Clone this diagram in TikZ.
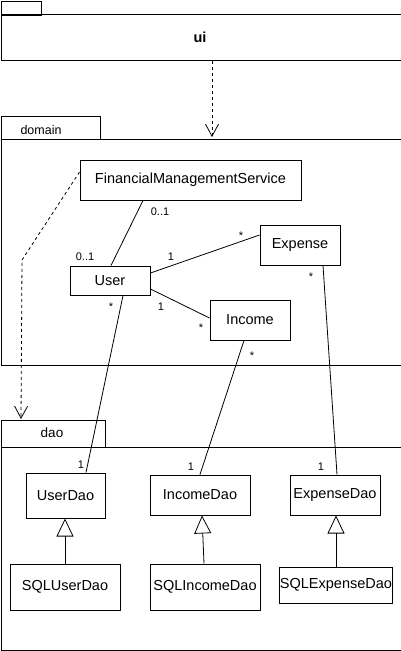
\documentclass[tikz,border=0pt]{standalone}
\usepackage{fontspec}
\setmainfont{Liberation Sans}
\usetikzlibrary{arrows.meta}
\begin{document}
\begin{tikzpicture}[x=1pt,y=-1pt,
  pkg/.style={draw, line width=1pt, inner sep=0pt, anchor=north west},
  cls/.style={draw, line width=1pt, inner sep=0pt, font=\fontsize{14.5}{16}\selectfont},
  mult/.style={inner sep=0pt, font=\fontsize{11}{13}\selectfont},
  assoc/.style={line width=0.8pt},
  dep/.style={line width=0.8pt, dashed, dash pattern=on 3pt off 3pt, -{Straight Barb[length=12pt, width=13pt, line width=0.8pt]}},
  inh/.style={line width=0.8pt, -{Triangle[open, length=18pt, width=17pt, line width=0.8pt]}}
]
\useasboundingbox (0,0) rectangle (401,651);
% ui package
\node[pkg, minimum width=40pt, minimum height=14pt] (uitab) at (0.5,0.5) {};
\node[pkg, minimum width=400pt, minimum height=46pt] (uibody) at (0.5,14) {};
\node[font=\bfseries\fontsize{14.5}{16}\selectfont] (uilabel) at (200,37) {ui};
% domain package
\node[pkg, minimum width=99pt, minimum height=23pt] (domtab) at (0.5,116) {};
\node[pkg, minimum width=400pt, minimum height=226pt] (dombody) at (0.5,139) {};
\node[font=\fontsize{12.5}{14}\selectfont] (domlabel) at (41,130) {domain};
% dao package
\node[pkg, minimum width=104pt, minimum height=27pt] (daotab) at (0.5,420) {};
\node[pkg, minimum width=400pt, minimum height=203pt] (daobody) at (0.5,447) {};
\node[font=\fontsize{13.5}{15}\selectfont] (daolabel) at (52,433) {dao};
% classes
\node[cls, minimum width=221pt, minimum height=40pt] (fms) at (190.5,180) {FinancialManagementService};
\node[cls, minimum width=80pt, minimum height=40pt] (expense) at (300,245) {Expense};
\node[cls, minimum width=80pt, minimum height=29pt] (user) at (110,280.5) {User};
\node[cls, minimum width=80pt, minimum height=40pt] (income) at (250,320) {Income};
\node[cls, minimum width=79pt, minimum height=45pt] (userdao) at (65.5,495.5) {UserDao};
\node[cls, minimum width=100pt, minimum height=40pt] (incomedao) at (200,495) {IncomeDao};
\node[cls, minimum width=90pt, minimum height=40pt] (expensedao) at (335,495) {ExpenseDao};
\node[cls, minimum width=110pt, minimum height=46pt] (sqluser) at (65,587) {SQLUserDao};
\node[cls, minimum width=110pt, minimum height=46pt] (sqlincome) at (205,587) {SQLIncomeDao};
\node[cls, minimum width=110pt, minimum height=36pt] (sqlexpense) at (336,585) {SQLExpenseDao};
% dependencies
\coordinate (uidepend) at (212,137);
\draw[dep] ([xshift=11pt]uibody.south) -- (uidepend);
\coordinate (bend) at (22,260);
\coordinate (daodepend) at (21,419);
\draw[dep] ([yshift=8pt]fms.west) -- (bend) -- (daodepend);
% associations
\draw[assoc] ([xshift=-47.5pt]fms.south) -- ([xshift=1pt]user.north);
\draw[assoc] ([yshift=7.5pt]user.east) -- ([yshift=10pt]expense.west);
\draw[assoc] ([yshift=-8.5pt]user.east) -- ([yshift=2pt]income.west);
\draw[assoc] ([xshift=13pt]user.south) -- ([xshift=20.5pt]userdao.north);
\draw[assoc] ([xshift=-6pt]income.south) -- (incomedao.north);
\draw[assoc] ([xshift=23pt]expense.south) -- ([xshift=2pt]expensedao.north);
% inheritance
\draw[inh] (sqluser.north) -- (sqluser.north |- userdao.south);
\draw[inh] ([xshift=-1pt]sqlincome.north) -- ([xshift=2pt]incomedao.south);
\draw[inh] (sqlexpense.north) -- (sqlexpense.north |- expensedao.south);
% multiplicities
\node[mult] (m1) at (160,212) {0..1};
\node[mult] (m2) at (85,257) {0..1};
\node[mult] (m3) at (171,257) {1};
\node[mult] (m4) at (241,236) {*};
\node[mult] (m5) at (161,307) {1};
\node[mult] (m6) at (201,328) {*};
\node[mult] (m7) at (111,307) {*};
\node[mult] (m8) at (81,465) {1};
\node[mult] (m9) at (252,356) {*};
\node[mult] (m10) at (191,467) {1};
\node[mult] (m11) at (311,277) {*};
\node[mult] (m12) at (321,467) {1};
\end{tikzpicture}
\end{document}
